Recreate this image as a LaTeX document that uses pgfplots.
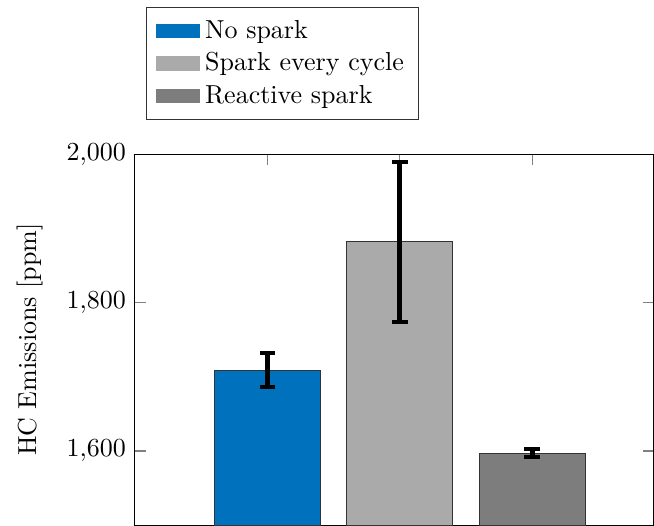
\documentclass[border=0pt]{standalone}
\usepackage{pgfplots}
\pgfplotsset{compat=1.18}
\definecolor{cblue}{RGB}{0,114,189}
\definecolor{clight}{RGB}{170,170,170}
\definecolor{cdark}{RGB}{125,125,125}
\begin{document}
\begin{tikzpicture}
\begin{axis}[
  name=ax,
  scale only axis,
  width=199.6pt, height=142.6pt,
  xmin=0, xmax=3.92,
  ymin=1500, ymax=2000,
  xtick={1,2,3},
  xticklabel=\empty,
  ytick={1600,1800,2000},
  xtick align=inside, ytick align=inside,
  xtick pos=both, ytick pos=both,
  major tick length=4.2pt,
  xtick style={draw=black!50, line width=0.5pt},
  ytick style={draw=black!50, line width=0.5pt},
  axis line style={black},
  ylabel={HC Emissions [ppm]},
  ylabel shift=2.3pt,
  legend image code/.code={\path[#1,draw=none] (0cm,-0.1cm) rectangle (0.6cm,0.1cm);},
  legend style={at={(axis description cs:0,1)}, anchor=north west, xshift=4.2pt, yshift=56.8pt, draw=black!80, legend cell align=left, inner xsep=3.5pt, inner ysep=3pt},
  error bars/error bar style={line width=1.8pt, black},
  error bars/error mark options={rotate=90, line width=1.5pt, mark size=3pt, black},
]
\addplot[ybar, bar width=0.8, fill=cblue, draw=black!80, bar shift=0pt, error bars/.cd, y dir=both, y explicit]
  coordinates {(1,1709) +- (0,23)};
\addlegendentry{No spark}
\addplot[ybar, bar width=0.8, fill=clight, draw=black!80, bar shift=0pt, error bars/.cd, y dir=both, y explicit]
  coordinates {(2,1882) +- (0,108)};
\addlegendentry{Spark every cycle}
\addplot[ybar, bar width=0.8, fill=cdark, draw=black!80, bar shift=0pt, error bars/.cd, y dir=both, y explicit]
  coordinates {(3,1597) +- (0,5.6)};
\addlegendentry{Reactive spark}
\end{axis}
\pgfresetboundingbox
\path (ax.south west) ++(-51.9pt,0pt) rectangle ++(251.5pt,201.9pt);
\end{tikzpicture}
\end{document}
